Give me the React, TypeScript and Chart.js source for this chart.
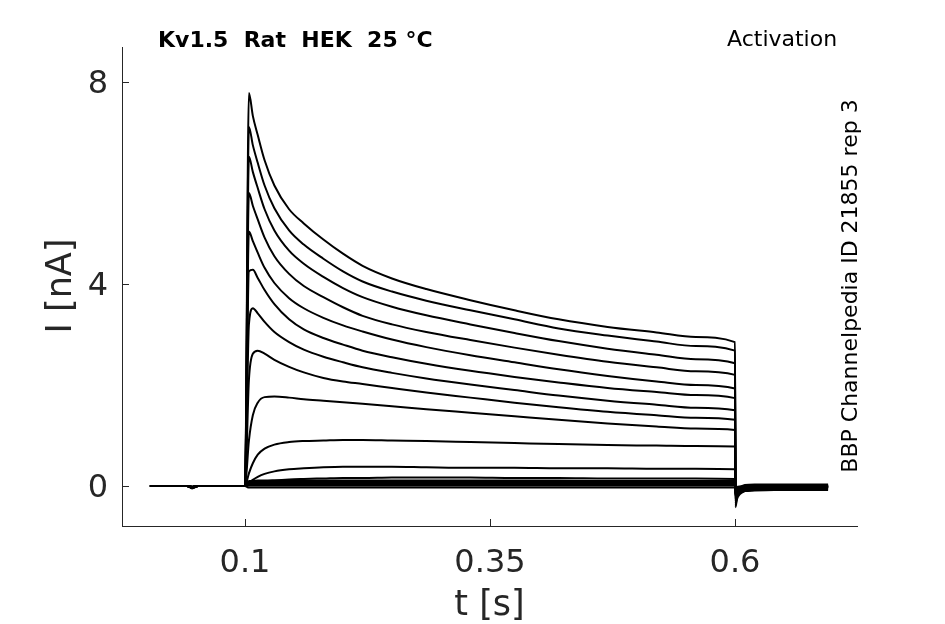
import { useEffect, useRef } from "react";
import { Chart, registerables } from "chart.js";

Chart.register(...registerables);

// time base of the sweeps (s)
const TIME = [
  0.003, 0.041, 0.046, 0.052, 0.1,
  0.104, 0.108, 0.113, 0.12, 0.13, 0.145, 0.16, 0.18, 0.2, 0.22, 0.25, 0.285, 0.33, 0.375, 0.42, 0.47, 0.52, 0.56, 0.6,
  0.6005, 0.602, 0.605, 0.61, 0.62, 0.64, 0.67, 0.695,
];

// currents (nA) for each voltage step sweep
const SWEEP_01 = [0, 0, -0.05, 0, 0,
  7.78, 7.33, 6.95, 6.45, 5.95, 5.48, 5.2, 4.88, 4.6, 4.36, 4.11, 3.9, 3.68, 3.48, 3.3, 3.15, 3.04, 2.95, 2.85,
  -0.42, -0.26, -0.16, -0.1, -0.07, -0.05, -0.04, -0.03];
const SWEEP_02 = [0, 0, -0.04, 0, 0,
  7.11, 6.75, 6.4, 5.95, 5.5, 5.06, 4.78, 4.5, 4.25, 4.05, 3.85, 3.67, 3.48, 3.3, 3.12, 2.98, 2.86, 2.77, 2.68,
  -0.38, -0.23, -0.14, -0.09, -0.06, -0.04, -0.03, -0.03];
const SWEEP_03 = [0, 0, -0.04, 0, 0,
  6.52, 6.22, 5.9, 5.48, 5.06, 4.66, 4.4, 4.14, 3.92, 3.74, 3.55, 3.38, 3.2, 3.03, 2.87, 2.72, 2.6, 2.51, 2.43,
  -0.35, -0.21, -0.13, -0.08, -0.05, -0.04, -0.03, -0.02];
const SWEEP_04 = [0, 0, -0.03, 0, 0,
  5.8, 5.55, 5.28, 4.92, 4.55, 4.2, 3.96, 3.74, 3.54, 3.37, 3.2, 3.05, 2.89, 2.74, 2.6, 2.46, 2.35, 2.27, 2.2,
  -0.31, -0.19, -0.12, -0.08, -0.05, -0.04, -0.03, -0.02];
const SWEEP_05 = [0, 0, -0.03, 0, 0,
  5.04, 4.85, 4.62, 4.32, 4.02, 3.72, 3.52, 3.33, 3.18, 3.06, 2.9, 2.75, 2.59, 2.45, 2.31, 2.18, 2.07, 2.0, 1.93,
  -0.27, -0.17, -0.1, -0.07, -0.05, -0.03, -0.02, -0.02];
const SWEEP_06 = [0, 0, -0.03, 0, 0,
  4.25, 4.28, 4.12, 3.88, 3.6, 3.3, 3.1, 2.93, 2.8, 2.68, 2.55, 2.42, 2.28, 2.16, 2.05, 1.94, 1.86, 1.8, 1.74,
  -0.24, -0.15, -0.09, -0.06, -0.04, -0.03, -0.02, -0.01];
const SWEEP_07 = [0, 0, -0.02, 0, 0,
  3.2, 3.52, 3.42, 3.25, 3.05, 2.85, 2.7, 2.56, 2.45, 2.35, 2.24, 2.13, 2.01, 1.9, 1.79, 1.69, 1.61, 1.55, 1.5,
  -0.2, -0.12, -0.08, -0.05, -0.03, -0.02, -0.02, -0.01];
const SWEEP_08 = [0, 0, -0.02, 0, 0,
  2.1, 2.62, 2.68, 2.62, 2.5, 2.36, 2.25, 2.14, 2.07, 2.02, 1.94, 1.85, 1.75, 1.65, 1.56, 1.47, 1.4, 1.35, 1.31,
  -0.17, -0.1, -0.06, -0.04, -0.03, -0.02, -0.01, -0.01];
const SWEEP_09 = [0, 0, -0.02, 0, 0,
  0.9, 1.4, 1.65, 1.76, 1.77, 1.75, 1.72, 1.69, 1.66, 1.63, 1.58, 1.52, 1.45, 1.38, 1.31, 1.24, 1.18, 1.14, 1.11,
  -0.12, -0.07, -0.05, -0.03, -0.02, -0.01, -0.01, 0];
const SWEEP_10 = [0, 0, -0.02, 0, 0,
  0.25, 0.45, 0.62, 0.74, 0.82, 0.87, 0.89, 0.9, 0.91, 0.91, 0.9, 0.89, 0.87, 0.85, 0.83, 0.81, 0.8, 0.79, 0.78,
  -0.07, -0.04, -0.03, -0.02, -0.01, 0, 0, 0];
const SWEEP_11 = [0, 0, -0.02, 0, 0,
  0.06, 0.12, 0.18, 0.24, 0.29, 0.33, 0.35, 0.37, 0.38, 0.38, 0.38, 0.37, 0.36, 0.36, 0.35, 0.35, 0.34, 0.34, 0.33,
  -0.03, -0.02, -0.01, 0, 0, 0, 0, 0];
const SWEEP_12 = [0, 0, -0.02, 0, 0,
  0.02, 0.04, 0.06, 0.09, 0.11, 0.13, 0.14, 0.15, 0.16, 0.16, 0.17, 0.17, 0.17, 0.16, 0.16, 0.15, 0.15, 0.15, 0.14,
  -0.06, -0.04, -0.02, 0.02, 0.03, 0.03, 0.03, 0.03];
const SWEEP_13 = [0, 0, -0.02, 0, 0,
  0.1, 0.1, 0.11, 0.11, 0.11, 0.11, 0.11, 0.11, 0.11, 0.11, 0.11, 0.11, 0.11, 0.11, 0.11, 0.1, 0.1, 0.1, 0.1,
  -0.08, -0.06, -0.04, -0.02, 0.01, 0.02, 0.02, 0.02];
const SWEEP_14 = [0, 0, -0.02, 0, 0,
  0.08, 0.08, 0.08, 0.08, 0.08, 0.08, 0.08, 0.08, 0.08, 0.08, 0.08, 0.08, 0.08, 0.08, 0.08, 0.08, 0.08, 0.08, 0.08,
  -0.1, -0.08, -0.06, -0.04, -0.02, -0.01, 0, 0];
const SWEEP_15 = [0, 0, -0.02, 0, 0,
  0.05, 0.05, 0.05, 0.05, 0.05, 0.05, 0.05, 0.05, 0.05, 0.05, 0.05, 0.05, 0.05, 0.05, 0.05, 0.05, 0.05, 0.05, 0.05,
  -0.12, -0.1, -0.08, -0.06, -0.04, -0.03, -0.02, -0.02];
const SWEEP_16 = [0, 0, -0.02, 0, 0,
  0.03, 0.03, 0.03, 0.03, 0.03, 0.03, 0.03, 0.03, 0.03, 0.03, 0.03, 0.03, 0.03, 0.03, 0.03, 0.03, 0.03, 0.03, 0.03,
  -0.14, -0.12, -0.1, -0.08, -0.06, -0.05, -0.04, -0.04];
const SWEEP_17 = [0, 0, -0.02, 0, 0,
  0.01, 0.01, 0.01, 0.01, 0.01, 0.01, 0.01, 0.01, 0.01, 0.01, 0.01, 0.01, 0.01, 0.01, 0.01, 0.01, 0.01, 0.01, 0.01,
  -0.16, -0.13, -0.11, -0.09, -0.08, -0.07, -0.06, -0.06];
const SWEEP_18 = [0, 0, -0.02, 0, 0,
  -0.03, -0.03, -0.03, -0.03, -0.03, -0.03, -0.03, -0.03, -0.03, -0.03, -0.03, -0.03, -0.03, -0.03, -0.03, -0.03, -0.03, -0.03, -0.03,
  -0.18, -0.15, -0.12, -0.1, -0.09, -0.08, -0.08, -0.08];

const SWEEPS = [
  SWEEP_01, SWEEP_02, SWEEP_03, SWEEP_04, SWEEP_05, SWEEP_06, SWEEP_07, SWEEP_08, SWEEP_09,
  SWEEP_10, SWEEP_11, SWEEP_12, SWEEP_13, SWEEP_14, SWEEP_15, SWEEP_16, SWEEP_17, SWEEP_18,
];

const X_TICKS = [0.1, 0.35, 0.6];
const Y_TICKS = [0, 4, 8];
const X_RANGE = [-0.0255, 0.7245];
const Y_RANGE = [-0.792, 8.693];

const TITLE = "Kv1.5  Rat  HEK  25 °C";
const PROTOCOL = "Activation";
const SOURCE = "BBP Channelpedia ID 21855 rep 3";
const X_LABEL = "t [s]";
const Y_LABEL = "I [nA]";

const AXIS_COLOR = "#262626";
const FONT = "DejaVu Sans";

const annotationPlugin = {
  id: "annotations",
  afterDraw(chart: any) {
    const { ctx, chartArea, scales } = chart;
    ctx.save();
    // inward tick marks
    ctx.strokeStyle = AXIS_COLOR;
    ctx.lineWidth = 1;
    ctx.beginPath();
    for (const v of X_TICKS) {
      const px = Math.round(scales.x.getPixelForValue(v)) + 0.5;
      ctx.moveTo(px, chartArea.bottom);
      ctx.lineTo(px, chartArea.bottom - 7);
    }
    for (const v of Y_TICKS) {
      const py = Math.round(scales.y.getPixelForValue(v)) + 0.5;
      ctx.moveTo(chartArea.left, py);
      ctx.lineTo(chartArea.left + 7, py);
    }
    ctx.stroke();

    // title
    ctx.fillStyle = "#000";
    ctx.textBaseline = "middle";
    ctx.textAlign = "left";
    ctx.font = `bold 22px "${FONT}"`;
    ctx.fillText(TITLE, 158, 41);
    ctx.font = `22px "${FONT}"`;
    ctx.fillText(PROTOCOL, 727, 40);

    // source note, rotated
    ctx.save();
    ctx.translate(851, 286);
    ctx.rotate(-Math.PI / 2);
    ctx.textAlign = "center";
    ctx.fillText(SOURCE, 0, 0);
    ctx.restore();

    // axis titles
    ctx.fillStyle = AXIS_COLOR;
    ctx.font = `35px "${FONT}"`;
    ctx.textAlign = "center";
    ctx.fillText(X_LABEL, (chartArea.left + chartArea.right) / 2, 606);
    ctx.save();
    ctx.translate(62, 286);
    ctx.rotate(-Math.PI / 2);
    ctx.fillText(Y_LABEL, 0, 0);
    ctx.restore();

    ctx.restore();
  },
};

export default function App() {
  const canvasRef = useRef<HTMLCanvasElement | null>(null);

  useEffect(() => {
    const canvas = canvasRef.current;
    if (!canvas) return;
    const datasets = SWEEPS.map((sweep) => ({
      data: TIME.map((t, i) => ({ x: t, y: sweep[i] })),
      borderColor: "#000",
      backgroundColor: "#000",
      borderWidth: 2,
      pointRadius: 0,
      fill: false,
      cubicInterpolationMode: "monotone" as const,
      borderJoinStyle: "round" as const,
    }));

    const chart = new Chart(canvas, {
      type: "line",
      data: { datasets },
      options: {
        animation: false,
        responsive: false,
        events: [],
        layout: { padding: { left: 0, right: 88, top: 47, bottom: 0 } },
        plugins: {
          legend: { display: false },
          tooltip: { enabled: false },
          title: { display: false },
        },
        scales: {
          x: {
            type: "linear",
            min: X_RANGE[0],
            max: X_RANGE[1],
            afterFit: (s: any) => {
              s.height = 98;
            },
            afterBuildTicks: (s: any) => {
              s.ticks = X_TICKS.map((v) => ({ value: v }));
            },
            grid: { display: false, drawTicks: false },
            border: { display: true, color: AXIS_COLOR, width: 1 },
            ticks: {
              color: AXIS_COLOR,
              font: { family: FONT, size: 32 },
              padding: 18,
              maxRotation: 0,
              autoSkip: false,
              callback: (v: any) => String(v),
            },
          },
          y: {
            type: "linear",
            min: Y_RANGE[0],
            max: Y_RANGE[1],
            afterFit: (s: any) => {
              s.width = 122;
            },
            afterBuildTicks: (s: any) => {
              s.ticks = Y_TICKS.map((v) => ({ value: v }));
            },
            grid: { display: false, drawTicks: false },
            border: { display: true, color: AXIS_COLOR, width: 1 },
            ticks: {
              color: AXIS_COLOR,
              font: { family: FONT, size: 32 },
              padding: 14,
              labelOffset: 3,
              autoSkip: false,
              callback: (v: any) => String(v),
            },
          },
        },
      },
      plugins: [annotationPlugin],
    });
    return () => chart.destroy();
  }, []);

  return (
    <div style={{ position: "absolute", left: 0, top: 0, width: 945, height: 624, background: "#fff" }}>
      <canvas ref={canvasRef} width={945} height={624} />
    </div>
  );
}
